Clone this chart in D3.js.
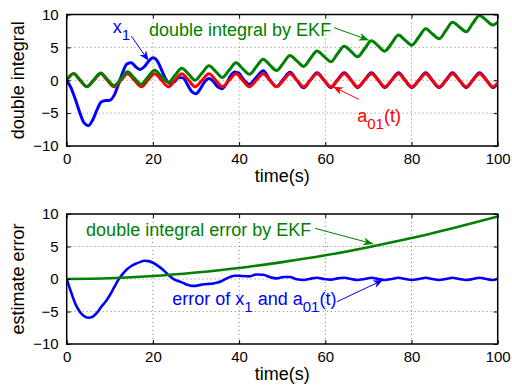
<!DOCTYPE html>
<html lang="en">
<head>
<meta charset="UTF-8">
<title>Double integral by EKF</title>
<script src="https://d3js.org/d3.v7.min.js"></script>
<style>
  body { margin: 0; background: #fff; }
  svg { font-family: "Liberation Sans", Arial, Helvetica, sans-serif; }
  .tick text { font-size: 15px; fill: #000; }
  .axis path, .axis line { stroke: #000; }
  .grid line { stroke: #666; stroke-width: 0.8; stroke-dasharray: 1,3; }
</style>
</head>
<body>
<svg id="chart" width="512" height="388"></svg>
<script>
// time grid through the peaks, zero crossings and troughs of the sine
var tSine = [0,1.6,3.1,4.7,6.3,7.9,9.4,11.0,12.6,14.1,15.7,17.3,18.8,20.4,22.0,23.6,
  25.1,26.7,28.3,29.8,31.4,33.0,34.6,36.1,37.7,39.3,40.8,42.4,44.0,45.6,47.1,48.7,
  50.3,51.8,53.4,55.0,56.5,58.1,59.7,61.3,62.8,64.4,66.0,67.5,69.1,70.7,72.3,73.8,
  75.4,77.0,78.5,80.1,81.7,83.3,84.8,86.4,88.0,89.5,91.1,92.7,94.2,95.8,97.4,98.9,100];

// a01(t), red
var a01 = [0,1,0,-1, 0,1,0,-1, 0,1,0,-1, 0,1,0,-1,
  0,1,0,-1, 0,1,0,-1, 0,1,0,-1, 0,1,0,-1,
  0,1,0,-1, 0,1,0,-1, 0,1,0,-1, 0,1,0,-1,
  0,1,0,-1, 0,1,0,-1, 0,1,0,-1, 0,1,0,-1, -0.45];

// double integral by EKF, green (top)
var ekf = [0,1.01,0.03,-0.95, 0.08,1.11,0.15,-0.81, 0.23,1.28,0.33,-0.61, 0.45,1.52,0.59,-0.33,
  0.74,1.83,0.92,0.01, 1.11,2.21,1.32,0.43, 1.54,2.67,1.78,0.91, 2.05,3.19,2.33,1.48,
  2.63,3.78,2.94,2.11, 3.27,4.45,3.63,2.81, 3.99,5.18,4.38,3.57, 4.78,5.99,5.21,4.42,
  5.64,6.88,6.10,5.34, 6.58,7.83,7.07,6.32, 7.59,8.84,8.11,7.38, 8.65,9.85,9.1,8.4, 8.85];

// time grid for the blue curves: 1 s steps over the transient, then the sine grid
var tBlue = [0,1,2,3,4,5,6,7,8,9,10,11,12,13,14,15,16,17,18,19,20,
  21,22,23,24,25,26,27,28,29,30,31,32,33,34,35,36,37,38,39,40,
  40.8,42.4,44.0,45.6,47.1,48.7,50.3,51.8,53.4,55.0,56.5,58.1,59.7,61.3,62.8,64.4,
  66.0,67.5,69.1,70.7,72.3,73.8,75.4,77.0,78.5,80.1,81.7,83.3,84.8,86.4,88.0,89.5,
  91.1,92.7,94.2,95.8,97.4,98.9,100];

// x1, blue (top)
var x1 = [0,-1.16,-2.89,-4.86,-6.46,-6.91,-6.08,-4.54,-3.31,-3.09,-3.04,
  -2.3,-0.64,1.22,2.49,2.65,2.06,1.64,2.05,2.9,3.41,
  2.94,1.59,0.15,-0.51,-0.23,0.41,0.36,-0.63,-1.71,-2.04,
  -1.3,-0.25,0.25,-0.17,-0.98,-1.29,-0.59,0.65,1.25,1.05,
  0.3,-0.6,0.45,1.45,0.1,-0.95,0.2,1.2,0,-1.15,0,1.15,0,-1.1,0.05,1.15,
  0,-1.12,0,1.15,0,-1.12,0,1.15,0,-1.12,0,1.15,0,-1.12,0,1.15,
  0,-1.12,0,1.15,0,-1.12,-0.5];

// error of x1 and a01(t), blue (bottom)
var errX1 = [0,-2.0,-3.8,-5.0,-5.7,-5.95,-5.8,-5.2,-4.3,-3.5,-2.5,
  -1.3,-0.1,0.8,1.5,2.0,2.35,2.6,2.8,2.75,2.5,
  2.1,1.6,1.0,0.4,-0.1,-0.35,-0.6,-0.9,-1.05,-1.05,
  -0.9,-0.8,-0.75,-0.7,-0.55,-0.3,0.05,0.35,0.5,0.5,
  0.45,0.4,0.7,0.65,0.3,0.1,0.3,0.3,-0.05,-0.15,0.05,0.2,0,-0.1,0.1,0.2,
  0,-0.15,0,0.2,0,-0.15,0,0.2,0,-0.15,0,0.2,0,-0.15,0,0.2,
  0,-0.15,0,0.2,0,-0.15,0.05];

// double integral error by EKF, green (bottom)
var tCoarse = [0,10,20,30,40,50,60,70,80,90,100];
var ekfErr = [0,0.12,0.45,1.0,1.7,2.6,3.65,4.9,6.3,7.9,9.6];

var xTicks = [0,20,40,60,80,100];
var yTicks = [-10,-5,0,5,10];

function zip(t, v) { return t.map(function(d, i) { return [d, v[i]]; }); }

var blue = "#0000ff", red = "#ff0000", green = "#008000";
var svg = d3.select("#chart");

var x = d3.scaleLinear().domain([0, 100]).range([66.7, 497.7]);
var yTop = d3.scaleLinear().domain([-10, 10]).range([146, 14.5]);
var yBot = d3.scaleLinear().domain([-10, 10]).range([344, 214]);

// arrow heads
var defs = svg.append("defs");
[["g", green], ["b", blue], ["r", red]].forEach(function(c) {
    defs.append("marker")
        .attr("id", "head-" + c[0])
        .attr("markerUnits", "userSpaceOnUse")
        .attr("markerWidth", 12).attr("markerHeight", 10)
        .attr("refX", 10).attr("refY", 4)
        .attr("orient", "auto")
        .append("path")
        .attr("d", "M0,0 L10,4 L0,8 L3,4 Z")
        .attr("fill", c[1]);
});

function panel(id, y, ylabel, series, notes) {
    var g = svg.append("g");
    var x0 = x.range()[0], x1r = x.range()[1];
    var yb = y.range()[0], yt = y.range()[1];

    defs.append("clipPath").attr("id", "clip-" + id)
        .append("rect").attr("x", x0).attr("y", yt)
        .attr("width", x1r - x0).attr("height", yb - yt);

    // grid
    var grid = g.append("g").attr("class", "grid");
    grid.selectAll("line.gx").data(xTicks.slice(1, -1)).enter().append("line")
        .attr("x1", x).attr("x2", x).attr("y1", yt).attr("y2", yb);
    grid.selectAll("line.gy").data(yTicks.slice(1, -1)).enter().append("line")
        .attr("x1", x0).attr("x2", x1r).attr("y1", y).attr("y2", y);

    // lines
    var line = d3.line()
        .x(function(d) { return x(d[0]); })
        .y(function(d) { return y(d[1]); })
        .curve(d3.curveMonotoneX);
    var lines = g.append("g").attr("clip-path", "url(#clip-" + id + ")");
    series.forEach(function(s) {
        lines.append("path")
            .attr("d", line(s.data))
            .attr("fill", "none")
            .attr("stroke", s.color)
            .attr("stroke-width", s.width)
            .attr("stroke-linejoin", "round");
    });

    // axes, ticks inward on every side
    g.append("g").attr("class", "axis")
        .attr("transform", "translate(0," + yb + ")")
        .call(d3.axisBottom(x).tickValues(xTicks).tickSize(-4).tickSizeOuter(0).tickPadding(7));
    g.append("g").attr("class", "axis")
        .attr("transform", "translate(0," + yt + ")")
        .call(d3.axisTop(x).tickValues(xTicks).tickSize(-4).tickSizeOuter(0).tickFormat(""));
    g.append("g").attr("class", "axis")
        .attr("transform", "translate(" + x0 + ",0)")
        .call(d3.axisLeft(y).tickValues(yTicks).tickSize(-4).tickSizeOuter(0).tickPadding(8));
    g.append("g").attr("class", "axis")
        .attr("transform", "translate(" + x1r + ",0)")
        .call(d3.axisRight(y).tickValues(yTicks).tickSize(-4).tickSizeOuter(0).tickFormat(""));
    g.selectAll(".domain").remove();
    g.append("rect")
        .attr("x", x0).attr("y", yt)
        .attr("width", x1r - x0).attr("height", yb - yt)
        .attr("fill", "none").attr("stroke", "#000").attr("stroke-width", 1.5);

    // axis labels
    g.append("text")
        .attr("x", (x0 + x1r) / 2).attr("y", yb + 36)
        .attr("text-anchor", "middle")
        .style("font-size", "18px")
        .text("time(s)");
    g.append("text")
        .attr("transform", "translate(24," + (yb + yt) / 2 + ") rotate(-90)")
        .attr("text-anchor", "middle")
        .style("font-size", "18px")
        .text(ylabel);

    // annotations
    notes.forEach(function(n) {
        var t = g.append("text")
            .attr("x", x(n.at[0])).attr("y", y(n.at[1]))
            .attr("fill", n.color)
            .style("font-size", "18px");
        n.parts.forEach(function(p, i) {
            var prev = i > 0 ? n.parts[i - 1] : null;
            var dy = 0;
            if (p.sub && !(prev && prev.sub)) dy = 7;
            if (!p.sub && prev && prev.sub) dy = -7;
            t.append("tspan")
                .attr("dy", dy)
                .style("font-size", p.sub ? "15px" : "18px")
                .text(p.s);
        });
        g.append("line")
            .attr("x1", x(n.from[0])).attr("y1", y(n.from[1]))
            .attr("x2", x(n.to[0])).attr("y2", y(n.to[1]))
            .attr("stroke", n.color).attr("stroke-width", 1)
            .attr("marker-end", "url(#head-" + n.head + ")");
    });
}

panel("top", yTop, "double integral", [
    { data: zip(tBlue, x1), color: blue, width: 3 },
    { data: zip(tSine, a01), color: red, width: 3 },
    { data: zip(tSine, ekf), color: green, width: 3 }
], [
    { parts: [{ s: "x" }, { s: "1", sub: true }], at: [10.7, 7.2], color: blue, head: "b",
      from: [15.0, 6.7], to: [19.0, 2.95] },
    { parts: [{ s: "double integral by EKF" }], at: [19.1, 6.7], color: green, head: "g",
      from: [62.0, 8.0], to: [70.1, 6.1] },
    { parts: [{ s: "a" }, { s: "01", sub: true }, { s: "(t)" }], at: [67.4, -6.3], color: red, head: "r",
      from: [67.8, -2.9], to: [61.8, -1.0] }
]);

panel("bot", yBot, "estimate error", [
    { data: zip(tBlue, errX1), color: blue, width: 2.6 },
    { data: zip(tCoarse, ekfErr), color: green, width: 2.6 }
], [
    { parts: [{ s: "double integral error by EKF" }], at: [4.5, 6.6], color: green, head: "g",
      from: [57.6, 7.8], to: [71.1, 5.4] },
    { parts: [{ s: "error of x" }, { s: "1", sub: true }, { s: " and a" }, { s: "01", sub: true }, { s: "(t)" }],
      at: [24.5, -4.0], color: blue, head: "b",
      from: [62.7, -3.5], to: [73.4, -0.15] }
]);
</script>
</body>
</html>
